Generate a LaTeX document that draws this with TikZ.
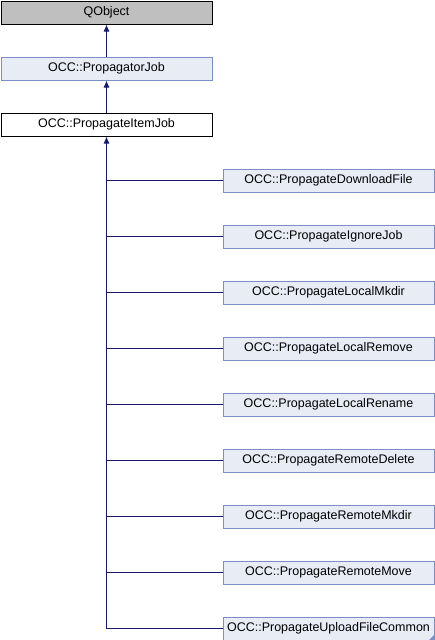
\documentclass[tikz,border=0pt]{standalone}
\usepackage{fontspec}
\setmainfont{Liberation Sans}
\usetikzlibrary{arrows.meta}
\definecolor{edgeblue}{HTML}{191970}
\definecolor{boxfill}{HTML}{E8ECF5}
\definecolor{boxline}{HTML}{7B8FC6}
\definecolor{grayfill}{HTML}{BFBFBF}
\begin{document}
\begin{tikzpicture}[x=1pt,y=-1pt,
  cls/.style={draw=boxline,fill=boxfill,line width=1pt,minimum width=211pt,minimum height=23pt,inner sep=0pt,anchor=north west,font=\fontsize{12.5}{14}\selectfont},
  topcls/.style={cls,draw=black},
  inh/.style={draw=edgeblue,line width=1pt,-{Latex[length=7pt,width=6pt]}},
  link/.style={draw=edgeblue,line width=1pt}]
\useasboundingbox (0,0) rectangle (434,640);
\node[topcls,fill=grayfill] (qo) at (0.5,0.5) {QObject};
\node[cls] (pj) at (0.5,56.5) {OCC::PropagatorJob};
\node[topcls,fill=white] (pij) at (0.5,112.5) {OCC::PropagateItemJob};
\draw[inh] (pj.north) -- (qo.south);
\draw[inh] (pij.north) -- (pj.south);
\foreach \i/\nm/\t in {0/c1/OCC::PropagateDownloadFile,1/c2/OCC::PropagateIgnoreJob,2/c3/OCC::PropagateLocalMkdir,3/c4/OCC::PropagateLocalRemove,4/c5/OCC::PropagateLocalRename,5/c6/OCC::PropagateRemoteDelete,6/c7/OCC::PropagateRemoteMkdir,7/c8/OCC::PropagateRemoteMove,8/c9/OCC::PropagateUploadFileCommon}{
  \node[cls] (\nm) at (222.5,168.5+56*\i) {\t};
  \draw[link] (\nm.west) -- (pij.south |- \nm.west);
}
\draw[inh] (pij.south |- c9.west) -- (pij.south);
\fill[boxline] (c9.south east) -- ++(-6,0) -- ++(6,-6) -- cycle;
\end{tikzpicture}
\end{document}
